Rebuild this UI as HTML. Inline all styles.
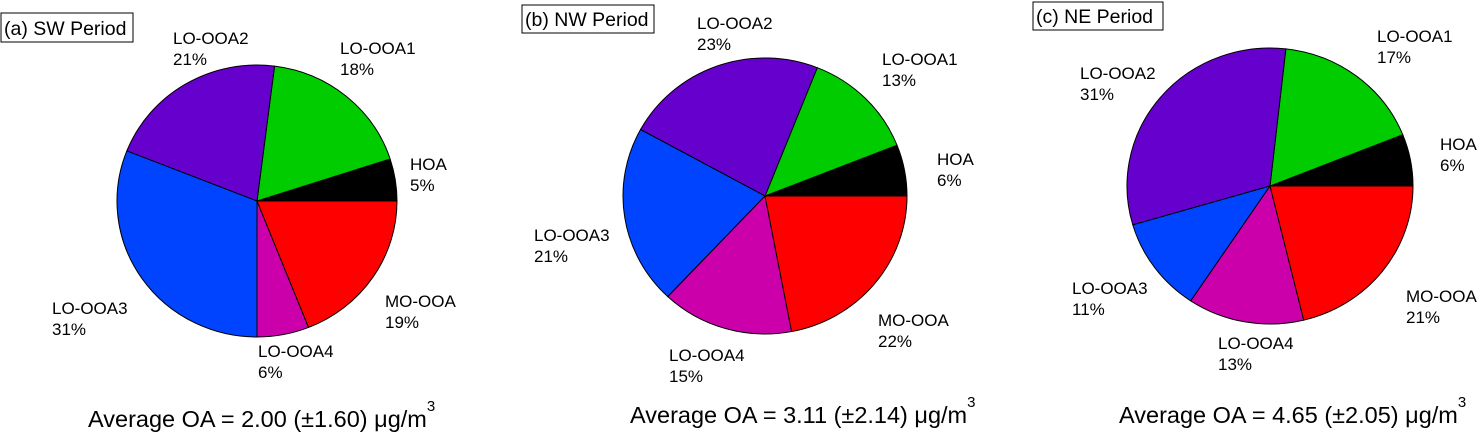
<!DOCTYPE html>
<html><head><meta charset="utf-8"><style>
html,body{margin:0;padding:0;background:#fff}
svg text{font-family:"Liberation Sans",sans-serif;fill:#000}
.l{font-size:17px}
.tt{font-size:19.5px}
.t{font-size:23.5px}
</style></head><body>
<svg id="chart" width="1480" height="433" viewBox="0 0 1480 433" xmlns="http://www.w3.org/2000/svg">
<g>
<rect x="1" y="13" width="132" height="29" fill="#fff" stroke="#000" stroke-width="1"/>
<text x="4" y="35" class="tt">(a) SW Period</text>
<rect x="522" y="5" width="132" height="28" fill="#fff" stroke="#000" stroke-width="1"/>
<text x="525" y="26" class="tt">(b) NW Period</text>
<rect x="1033" y="2" width="130" height="28" fill="#fff" stroke="#000" stroke-width="1"/>
<text x="1036" y="23" class="tt">(c) NE Period</text>
</g>
<g id="pies"></g>
<g>
<text x="88" y="427" class="t">Average OA = 2.00 (±1.60) μg/m<tspan dy="-16" style="font-size:15px">3</tspan></text>
<text x="630" y="423" class="t">Average OA = 3.11 (±2.14) μg/m<tspan dy="-16" style="font-size:15px">3</tspan></text>
<text x="1119" y="423" class="t">Average OA = 4.65 (±2.05) μg/m<tspan dy="-16" style="font-size:15px">3</tspan></text>
</g>
</svg>
<script>
const categories = ["HOA","LO-OOA1","LO-OOA2","LO-OOA3","LO-OOA4","MO-OOA"];
const valuesSW = [5,18,21,31,6,19];
const valuesNW = [6,13,23,21,15,22];
const valuesNE = [6,17,31,11,13,21];
const colors = ["#000000","#00cc00","#6600cc","#0044ff","#cc00aa","#ff0000"];
const panels = [
 {id:"a", vals:valuesSW, cx:257, cy:201, rx:140, ry:136,
  labels:[[410,168],[340,52],[173,42],[52,312],[258,355],[385,305]]},
 {id:"b", vals:valuesNW, cx:765, cy:196, rx:142, ry:138,
  labels:[[937,163],[882,63],[697,27],[534,239],[669,359],[878,324]]},
 {id:"c", vals:valuesNE, cx:1270, cy:186, rx:143, ry:138,
  labels:[[1440,148],[1377,40],[1080,77],[1072,292],[1218,347],[1406,300]]}
];
const NS="http://www.w3.org/2000/svg";
const root=document.getElementById("pies");
panels.forEach(p=>{
  const g=document.createElementNS(NS,"g");
  
  
  root.appendChild(g);
  const total=p.vals.reduce((a,b)=>a+b,0);
  let acc=0;
  p.vals.forEach((v,i)=>{
    const a0=acc/total*2*Math.PI; acc+=v; const a1=acc/total*2*Math.PI;
    const x0=p.cx+p.rx*Math.cos(a0), y0=p.cy-p.ry*Math.sin(a0);
    const x1=p.cx+p.rx*Math.cos(a1), y1=p.cy-p.ry*Math.sin(a1);
    const large=(a1-a0)>Math.PI?1:0;
    const path=document.createElementNS(NS,"path");
    path.setAttribute("d",`M${p.cx},${p.cy} L${x0},${y0} A${p.rx},${p.ry} 0 ${large} 0 ${x1},${y1} Z`);
    path.setAttribute("fill",colors[i]);
    path.setAttribute("stroke","#000");
    path.setAttribute("stroke-width","1");
    
    
    g.appendChild(path);
    const [lx,ly]=p.labels[i];
    const t=document.createElementNS(NS,"text");
    t.setAttribute("x",lx); t.setAttribute("y",ly+2); t.setAttribute("class","l");
    
    
    t.textContent=categories[i];
    g.appendChild(t);
    const t2=document.createElementNS(NS,"text");
    t2.setAttribute("x",lx); t2.setAttribute("y",ly+23); t2.setAttribute("class","l");
    
    
    t2.textContent=v+"%";
    g.appendChild(t2);
  });
});
</script>
</body></html>
